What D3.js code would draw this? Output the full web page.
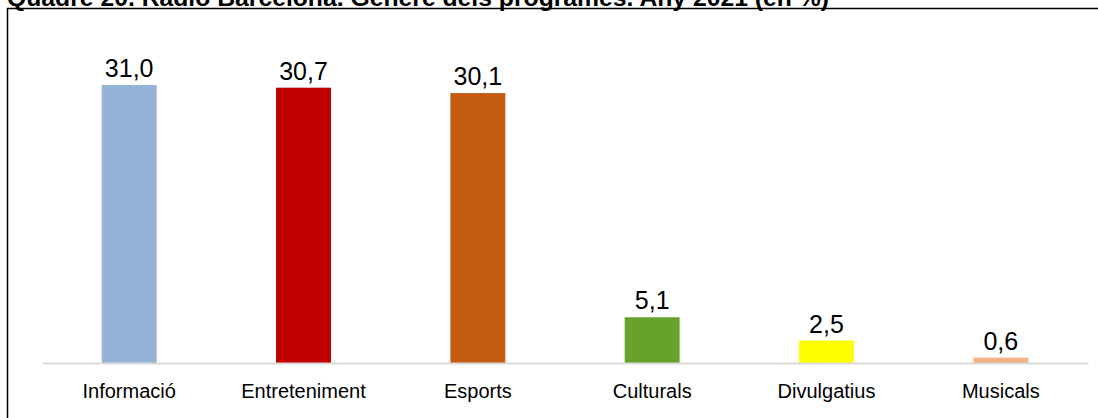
<!DOCTYPE html>
<html><head><meta charset="utf-8">
<script src="https://cdn.jsdelivr.net/npm/d3@7"></script>
<style>body{margin:0;background:#fff;}svg{display:block;}</style>
</head><body>
<svg id="c" width="1098" height="418"></svg>
<script>
const title = "Quadre 20. Ràdio Barcelona. Gènere dels programes. Any 2021 (en %)";
const categories = ["Informació","Entreteniment","Esports","Culturals","Divulgatius","Musicals"];
const values = [31.0, 30.7, 30.1, 5.1, 2.5, 0.6];
const colors = ["#95b3d7","#c00000","#c55a11","#67a22c","#ffff00","#f4b183"];

const svg = d3.select("#c");
const font = "'Liberation Sans', Arial, sans-serif";

svg.append("text").attr("x", 7).attr("y", 6)
  .attr("font-family", font).attr("font-weight", "bold").attr("font-size", 24)
  .attr("textLength", 822).attr("lengthAdjust", "spacingAndGlyphs")
  .attr("fill", "#000").text(title);

// frame
svg.append("path").attr("d", "M7.5,430 V8.5 H1098")
  .attr("fill", "none").attr("stroke", "#000").attr("stroke-width", 1.5);

const x = d3.scaleBand().domain(categories).range([42, 1088]).paddingInner(0.685).paddingOuter(0.3425);
const y = d3.scaleLinear().domain([0, 31]).range([363, 85]);

svg.selectAll("rect.bar").data(values).join("rect")
  .attr("class", "bar")
  .attr("x", (d, i) => x(categories[i]))
  .attr("width", x.bandwidth())
  .attr("y", d => y(d))
  .attr("height", d => y(0) - y(d))
  .attr("fill", (d, i) => colors[i]);

const axis = svg.append("g").attr("transform", `translate(0,${y(0)})`)
  .call(d3.axisBottom(x).tickSize(0).tickPadding(21));
axis.select(".domain").attr("stroke", "#d9d9d9").attr("stroke-width", 2);
axis.selectAll("text").attr("font-family", font).attr("font-size", 20).attr("fill", "#000");

svg.selectAll("text.val").data(values).join("text")
  .attr("class", "val")
  .attr("x", (d, i) => x(categories[i]) + x.bandwidth() / 2)
  .attr("y", d => y(d) - 8)
  .attr("text-anchor", "middle")
  .attr("font-family", font).attr("font-size", 25).attr("fill", "#000")
  .text(d => d3.format(".1f")(d).replace(".", ","));
</script>
</body></html>
